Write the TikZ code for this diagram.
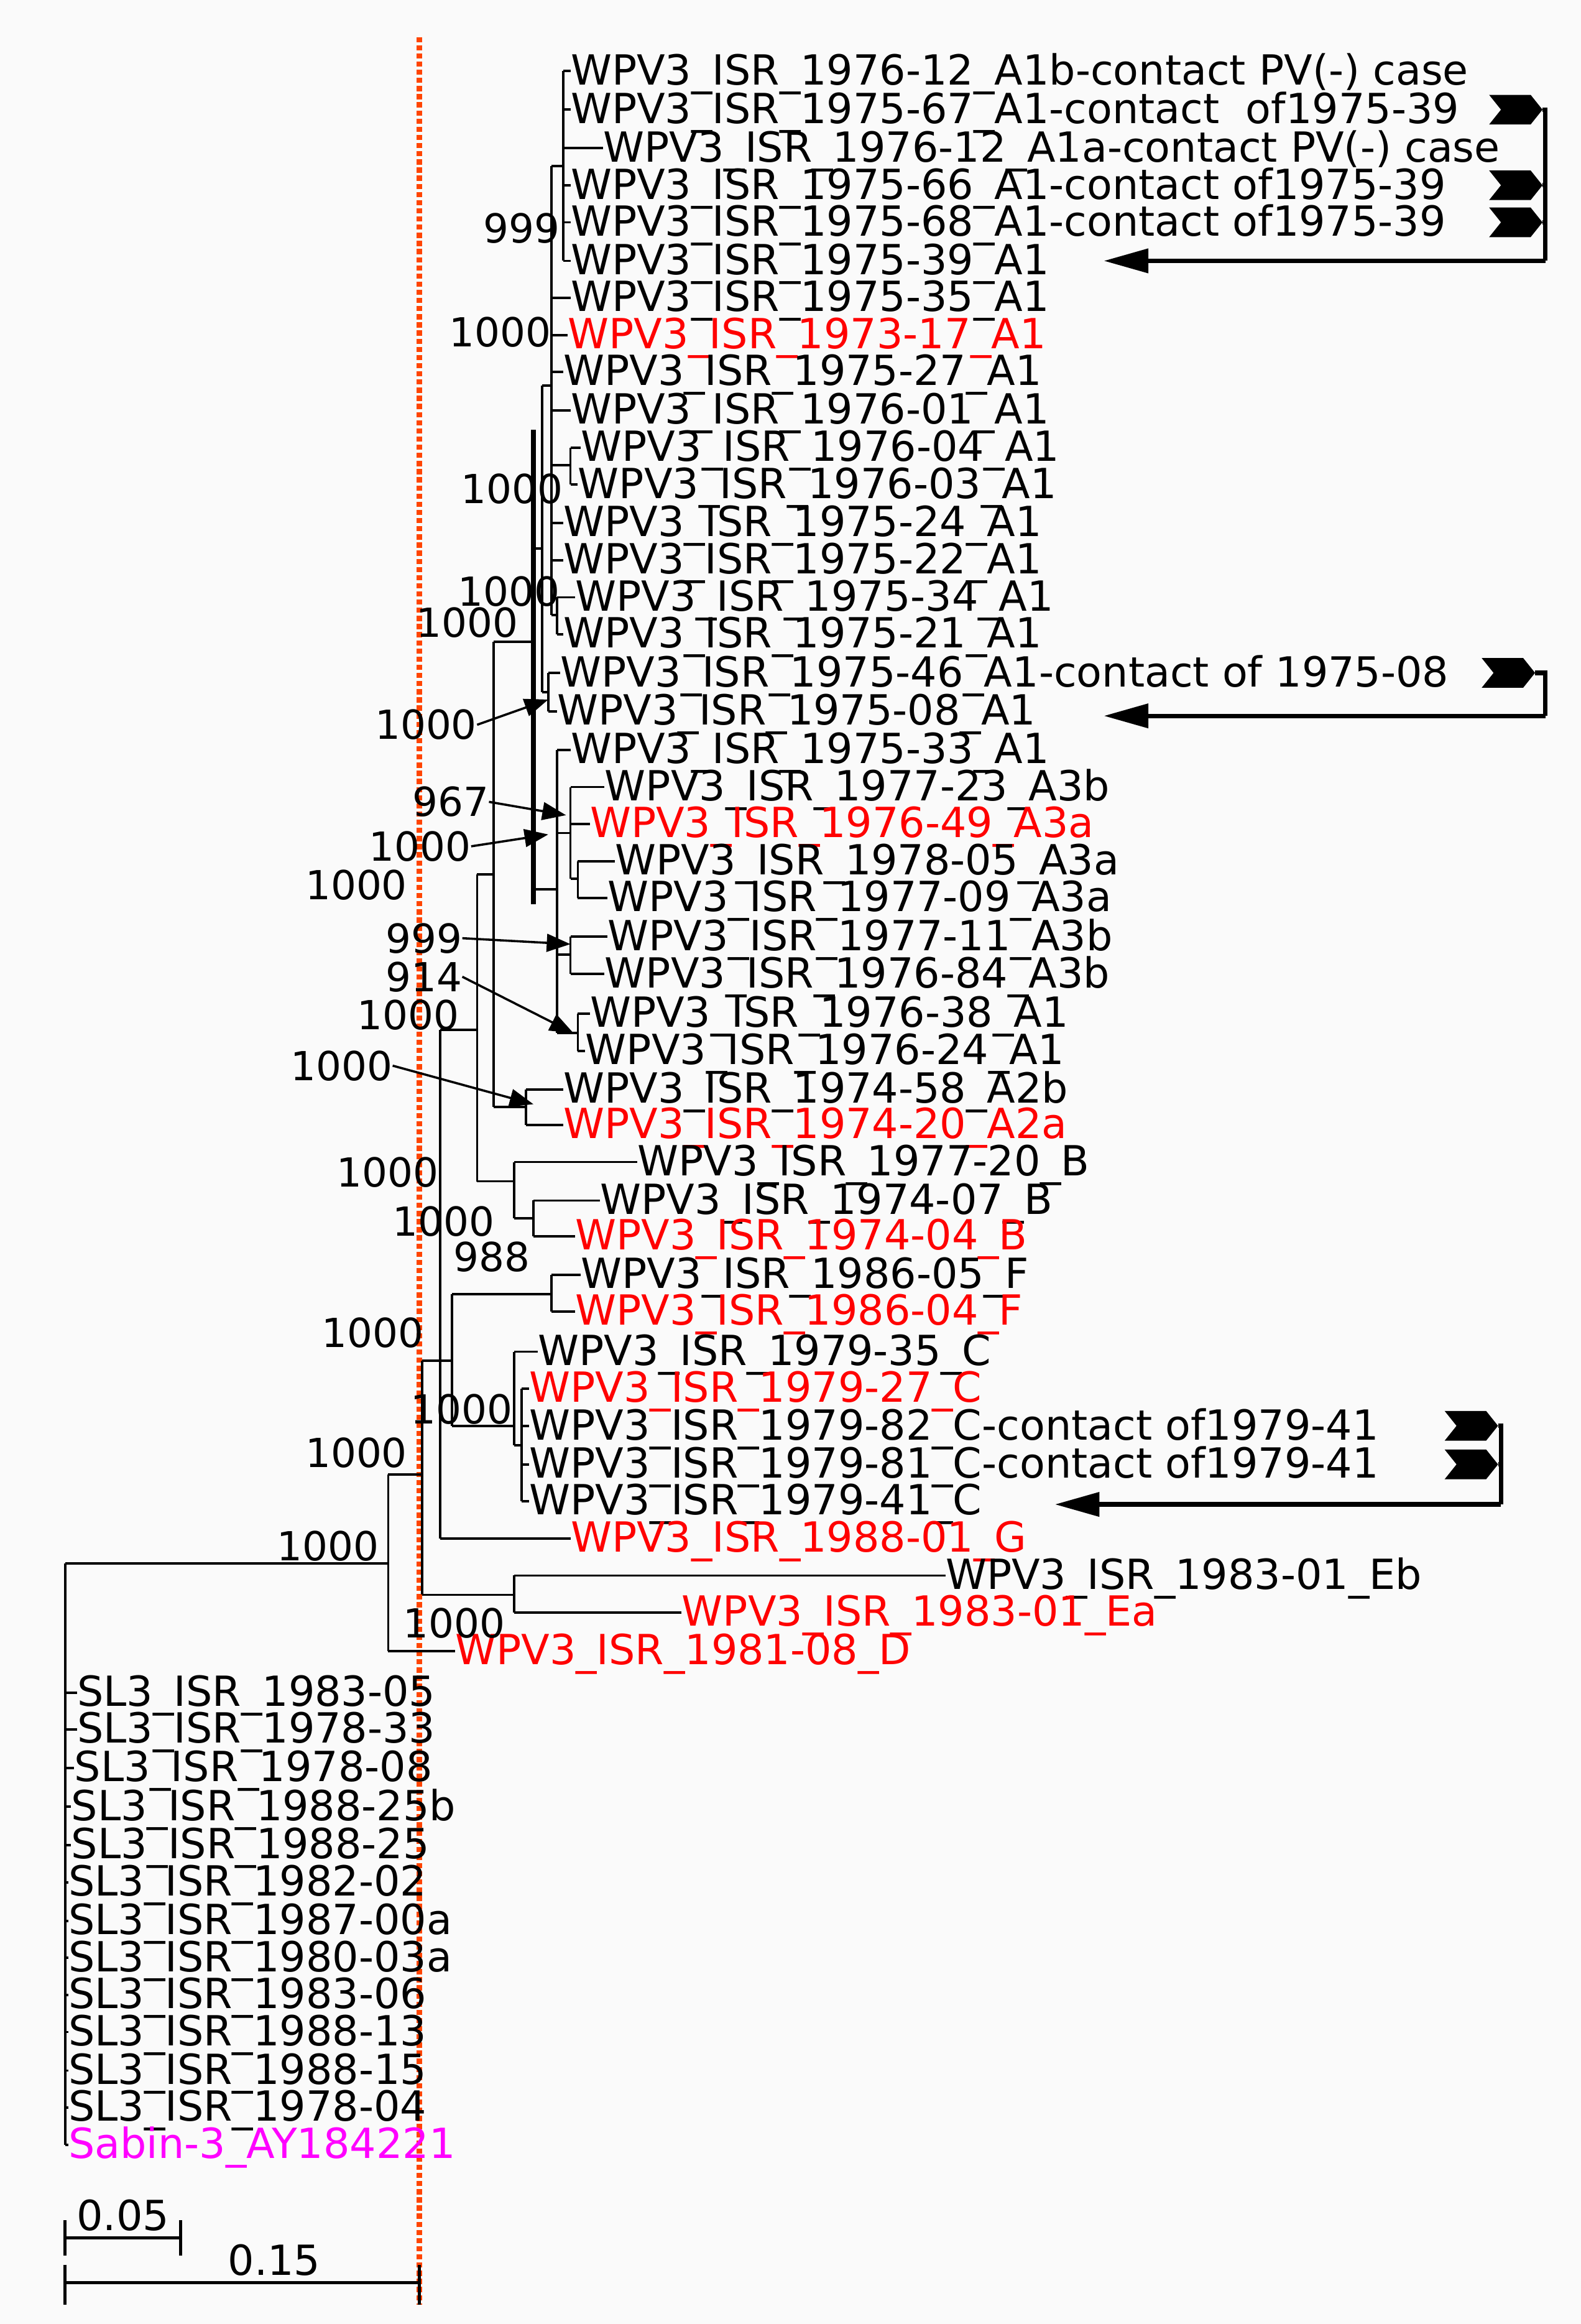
\documentclass[tikz,border=0pt]{standalone}
\usepackage{fontspec}
\setmainfont{DejaVu Sans}
\usetikzlibrary{arrows.meta}
\definecolor{dotred}{RGB}{255,69,0}
\definecolor{mag}{RGB}{255,0,255}
\begin{document}
\begin{tikzpicture}[x=1pt,y=-1pt,
  lab/.style={anchor=west,inner sep=0pt,font=\fontsize{28}{28}\selectfont},
  bs/.style={anchor=east,inner sep=0pt,font=\fontsize{27}{27}\selectfont},
  br/.style={line width=1.6pt},
  tip/.style={-{Triangle[length=30pt,width=16pt]},line width=3pt},
  flag/.style={fill=black}]
\useasboundingbox (0,0) rectangle (1067,1568);
\fill[white!98!black] (0,0) rectangle (1067,1568);
\draw[dotred,line width=3.5pt,dotted] (283,25) -- (283,1555);
\foreach \i/\y/\tx/\px/\t/\c in {
1/48/385/380/WPV3\_ISR\_1976-12\_A1b-contact PV(-) case/black,
2/74/385/380/WPV3\_ISR\_1975-67\_A1-contact\ \ of1975-39/black,
3/100/407/380/WPV3\_ISR\_1976-12\_A1a-contact PV(-) case/black,
4/125/385/380/WPV3\_ISR\_1975-66\_A1-contact of1975-39/black,
5/150/385/380/WPV3\_ISR\_1975-68\_A1-contact of1975-39/black,
6/176/385/380/WPV3\_ISR\_1975-39\_A1/black,
7/201/385/372/WPV3\_ISR\_1975-35\_A1/black,
8/226/383/372/WPV3\_ISR\_1973-17\_A1/red,
9/251/380/372/WPV3\_ISR\_1975-27\_A1/black,
10/277/385/372/WPV3\_ISR\_1976-01\_A1/black,
11/302/392/385/WPV3\_ISR\_1976-04\_A1/black,
12/327/390/385/WPV3\_ISR\_1976-03\_A1/black,
13/353/380/372/WPV3\_ISR\_1975-24\_A1/black,
14/378/380/372/WPV3\_ISR\_1975-22\_A1/black,
15/403/388/376/WPV3\_ISR\_1975-34\_A1/black,
16/428/380/376/WPV3\_ISR\_1975-21\_A1/black,
17/454/378/370/WPV3\_ISR\_1975-46\_A1-contact of 1975-08/black,
18/480/376/370/WPV3\_ISR\_1975-08\_A1/black,
19/506/385/376/WPV3\_ISR\_1975-33\_A1/black,
20/531/408/385/WPV3\_ISR\_1977-23\_A3b/black,
21/556/398/385/WPV3\_ISR\_1976-49\_A3a/red,
22/581/415/390/WPV3\_ISR\_1978-05\_A3a/black,
23/606/410/390/WPV3\_ISR\_1977-09\_A3a/black,
24/632/410/385/WPV3\_ISR\_1977-11\_A3b/black,
25/657/408/385/WPV3\_ISR\_1976-84\_A3b/black,
26/684/398/390/WPV3\_ISR\_1976-38\_A1/black,
27/709/395/390/WPV3\_ISR\_1976-24\_A1/black,
28/735/380/355/WPV3\_ISR\_1974-58\_A2b/black,
29/759/380/355/WPV3\_ISR\_1974-20\_A2a/red,
30/784/430/347/WPV3\_ISR\_1977-20\_B/black,
31/810/405/360/WPV3\_ISR\_1974-07\_B/black,
32/834/388/360/WPV3\_ISR\_1974-04\_B/red,
33/860/392/372/WPV3\_ISR\_1986-05\_F/black,
34/885/388/372/WPV3\_ISR\_1986-04\_F/red,
35/912/363/347/WPV3\_ISR\_1979-35\_C/black,
36/937/357/352/WPV3\_ISR\_1979-27\_C/red,
37/962/357/352/WPV3\_ISR\_1979-82\_C-contact of1979-41/black,
38/988/357/352/WPV3\_ISR\_1979-81\_C-contact of1979-41/black,
39/1013/357/352/WPV3\_ISR\_1979-41\_C/black,
40/1038/385/297/WPV3\_ISR\_1988-01\_G/red,
41/1063/638/347/WPV3\_ISR\_1983-01\_Eb/black,
42/1088/460/347/WPV3\_ISR\_1983-01\_Ea/red,
43/1114/307/262/WPV3\_ISR\_1981-08\_D/red,
44/1142/52/44/SL3\_ISR\_1983-05/black,
45/1167/52/44/SL3\_ISR\_1978-33/black,
46/1193/50/44/SL3\_ISR\_1978-08/black,
47/1219/48/44/SL3\_ISR\_1988-25b/black,
48/1245/48/44/SL3\_ISR\_1988-25/black,
49/1270/46/44/SL3\_ISR\_1982-02/black,
50/1296/46/44/SL3\_ISR\_1987-00a/black,
51/1321/46/44/SL3\_ISR\_1980-03a/black,
52/1346/46/44/SL3\_ISR\_1983-06/black,
53/1371/46/44/SL3\_ISR\_1988-13/black,
54/1397/46/44/SL3\_ISR\_1988-15/black,
55/1422/46/44/SL3\_ISR\_1978-04/black,
56/1447/46/44/Sabin-3\_AY184221/mag}{
  \node[lab,text=\c] (l\i) at (\tx,\y+2) {\t};
  \draw[br] (\px,\y) -- (\tx,\y);
}
\draw[br] (380,48)--(380,176) (372,112)--(380,112);
\draw[br] (385,302)--(385,327) (372,314)--(385,314);
\draw[br] (376,403)--(376,428) (372,415)--(376,415);
\draw[br] (372,112)--(372,415) (366,260)--(372,260);
\draw[br] (370,454)--(370,480) (366,467)--(370,467);
\draw[br] (366,260)--(366,467) (360,370)--(366,370);
\draw[br] (390,581)--(390,606) (385,593)--(390,593);
\draw[br] (385,531)--(385,593) (376,562)--(385,562);
\draw[br] (385,632)--(385,657) (376,644)--(385,644);
\draw[br] (390,684)--(390,709) (376,697)--(390,697);
\draw[br] (376,506)--(376,697) (360,600)--(376,600);
\draw[line width=3.5pt] (360,290)--(360,610);
\draw[br] (333,433)--(360,433);
\draw[br] (355,735)--(355,759) (333,747)--(355,747);
\draw[br] (333,433)--(333,747) (322,590)--(333,590);
\draw[br] (360,810)--(360,834) (347,822)--(360,822);
\draw[br] (347,784)--(347,822) (322,797)--(347,797);
\draw[br] (322,590)--(322,797) (297,695)--(322,695);
\draw[br] (372,860)--(372,885) (305,873)--(372,873);
\draw[br] (352,937)--(352,1013) (347,975)--(352,975);
\draw[br] (347,912)--(347,975) (305,962)--(347,962);
\draw[br] (305,873)--(305,962) (297,918)--(305,918);
\draw[br] (297,695)--(297,1038) (285,918)--(297,918);
\draw[br] (347,1063)--(347,1088) (285,1076)--(347,1076);
\draw[br] (285,918)--(285,1076) (262,995)--(285,995);
\draw[br] (262,995)--(262,1114) (44,1055)--(262,1055);
\draw[br] (44,1055)--(44,1447);
\foreach \n/\x/\y/\v in {b1/378/152/999,b2/372/222/1000,b3/380/328/1000,b4/378/397/1000,b5/350/418/1000,
  b6/322/487/1000,b7/330/539/967,b8/318/569/1000,b9/275/595/1000,b10/312/631/999,b11/312/657/914,
  b12/310/683/1000,b13/265/717/1000,b14/296/789/1000,b15/334/822/1000,b16/358/846/988,
  b17/286/897/1000,b18/346/949/1000,b19/275/978/1000,b20/256/1041/1000,b21/341/1093/1000}{
  \node[bs] (\n) at (\x,\y+2) {\v};}
\coordinate (t6) at (370,472); \coordinate (t7) at (382,550);
\coordinate (t8) at (370,563); \coordinate (t10) at (385,637);
\coordinate (t11) at (387,697); \coordinate (t13) at (360,745);
\foreach \a/\b in {b6/t6,b7/t7,b8/t8,b10/t10,b11/t11,b13/t13}
  \draw[-{Triangle[length=16pt,width=12pt]},line width=1.5pt] (\a.east) -- (\b);
\foreach \m/\x/\y in {m1/1005/74,m2/1005/125,m3/1005/150,m4/1000/454,m5/975/962,m6/975/988}{
  \path[flag] (\x,\y-10) -- (\x+28,\y-10) -- (\x+36,\y) -- (\x+28,\y+10) -- (\x,\y+10) -- (\x+8,\y) -- cycle;
  \coordinate (\m) at (\x+36,\y);}
\coordinate (r1) at (1043,74); \coordinate (r1b) at (1043,176); \coordinate (e1) at (745,176);
\draw[line width=3pt] (m1) -- (r1) -- (r1b);
\draw[line width=3pt] (m2) -- (1043,125) (m3) -- (1043,150);
\draw[tip] (r1b) -- (e1);
\coordinate (r2) at (1043,454); \coordinate (r2b) at (1043,483); \coordinate (e2) at (745,483);
\draw[line width=3pt] (m4) -- (r2) -- (r2b); \draw[tip] (r2b) -- (e2);
\coordinate (r3) at (1013,962); \coordinate (r3b) at (1013,1015); \coordinate (e3) at (712,1015);
\draw[line width=3pt] (m5) -- (r3) -- (r3b) (m6) -- (1013,988); \draw[tip] (r3b) -- (e3);
\coordinate (s1a) at (44,1510); \coordinate (s1b) at (122,1510);
\draw[line width=2pt] (s1a) -- (s1b) (44,1498)--(44,1522) (122,1498)--(122,1522);
\node[lab,anchor=base] (s1) at (83,1505) {0.05};
\coordinate (s2a) at (44,1540); \coordinate (s2b) at (283,1540);
\draw[line width=2pt] (s2a) -- (s2b) (44,1528)--(44,1555) (283,1528)--(283,1555);
\node[lab,anchor=base] (s2) at (185,1535) {0.15};
\end{tikzpicture}
\end{document}
